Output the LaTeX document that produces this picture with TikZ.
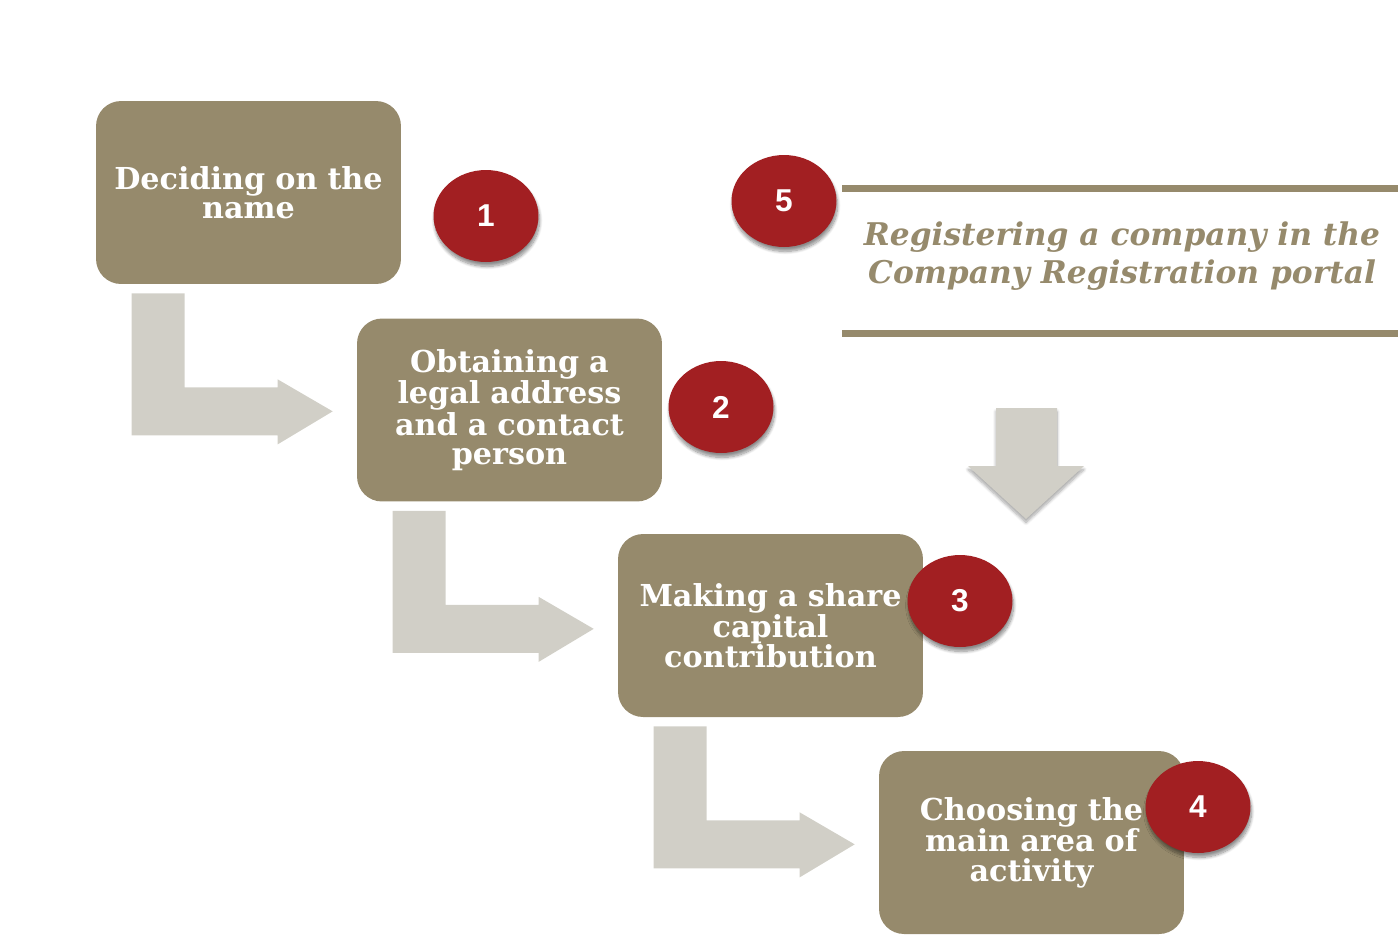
\documentclass[tikz,border=0pt]{standalone}
\usepackage{fontspec}
\usepackage{tikz}
\usetikzlibrary{calc,shapes.geometric,shadows.blur}
\newfontfamily\slabfont{DejaVu Serif}
\newfontfamily\numfont{Liberation Sans}
\definecolor{boxolive}{RGB}{150,138,108}
\definecolor{badgered}{RGB}{162,31,34}
\definecolor{arrowgrey}{RGB}{209,207,199}
\newcommand{\bentarrow}[1]{
    % #1 = box the arrow leaves from
    \begin{scope}[shift={(#1.south west)}]
        \fill[arrowgrey]
            (36,9) -- (89,9) -- (89,103) -- (182,103) -- (182,95)
            -- (237,127) -- (182,160) -- (182,151) -- (36,151) -- cycle;
    \end{scope}
}

\begin{document}
\begin{tikzpicture}[x=0.02cm,y=-0.02cm,
    stepbox/.style={rectangle,rounded corners=0.5cm,fill=boxolive,text=white,
        minimum width=6.1cm,minimum height=3.66cm,inner sep=0pt,
        align=center,text width=5.9cm,
        font=\slabfont\bfseries\fontsize{17.2}{16.8}\selectfont},
    badge/.style={ellipse,fill=badgered,text=white,inner sep=0pt,
        minimum width=2.1cm,minimum height=1.84cm,
        font=\numfont\bfseries\fontsize{18}{18}\selectfont,
        blur shadow={shadow xshift=0.6pt,shadow yshift=-2.5pt,shadow opacity=45,shadow blur steps=10}}]

\useasboundingbox (0,0) rectangle (1398,948);

% Step boxes
\node[stepbox] (name) at (248.5,192.5) {Deciding on the\\name};
\node[stepbox] (address) at (509.5,410) {Obtaining a\\legal address\\and a contact\\person};
\node[stepbox] (capital) at (770.5,625.5) {Making a share\\capital\\contribution};
\node[stepbox] (activity) at (1031.5,842.5) {Choosing the\\main area of\\activity};

% Bent arrows between the steps
\bentarrow{name}
\bentarrow{address}
\bentarrow{capital}

% Registration step
\draw[boxolive,line width=0.14cm] (842,188.5) -- (1398,188.5);
\draw[boxolive,line width=0.14cm] (842,333.5) -- (1398,333.5);
\node[text=boxolive,align=center,font=\slabfont\bfseries\itshape\fontsize{17.8}{21.6}\selectfont]
    (portal) at (1122,256) {Registering a company in the\\Company Registration portal};

% Down arrow
\fill[arrowgrey,blur shadow={shadow xshift=0pt,shadow yshift=-2pt,shadow opacity=35,shadow blur steps=8}]
    (996,408) -- (1057,408) -- (1057,466) -- (1084,466) -- (1026,519)
    -- (968,466) -- (996,466) -- cycle;

% Numbered badges
\node[badge] (n1) at (486,216) {1};
\node[badge] (n2) at (721,407) {2};
\node[badge] (n3) at (960,601) {3};
\node[badge] (n4) at (1198,807) {4};
\node[badge] (n5) at (784,201) {5};

\end{tikzpicture}
\end{document}
